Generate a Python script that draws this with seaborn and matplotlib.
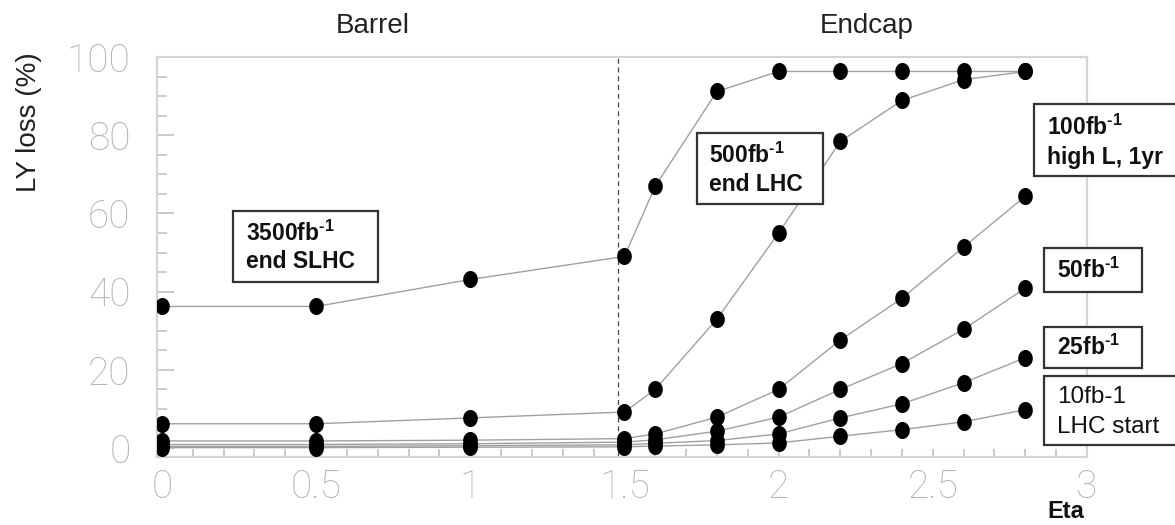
import numpy as np
import pandas as pd
import matplotlib
matplotlib.use("Agg")
import matplotlib.pyplot as plt
from matplotlib.path import Path
from matplotlib.patches import Rectangle
from matplotlib.ticker import MultipleLocator
import seaborn as sns

# Pseudorapidity positions of the measured towers
eta = [0.0, 0.5, 1.0, 1.5, 1.6, 1.8, 2.0, 2.2, 2.4, 2.6, 2.8]

# Light-yield loss (%) for each integrated luminosity
loss_3500fb = [36.2, 36.2, 43.1, 49.0, 67.0, 91.2, 96.3, 96.3, 96.3, 96.3, 96.3]
loss_500fb = [6.2, 6.2, 7.7, 9.2, 15.0, 33.0, 55.0, 78.4, 88.9, 94.2, 96.3]
loss_100fb = [1.8, 1.8, 2.0, 2.4, 3.6, 7.9, 15.0, 27.6, 38.3, 51.4, 64.4]
loss_50fb = [0.9, 0.9, 1.1, 1.5, 2.1, 4.3, 7.9, 15.0, 21.6, 30.4, 40.9]
loss_25fb = [0.4, 0.4, 0.6, 0.8, 1.2, 1.9, 3.6, 7.7, 11.3, 16.7, 23.1]
loss_10fb = [0.1, 0.1, 0.2, 0.3, 0.5, 0.8, 1.3, 3.0, 4.7, 6.7, 9.8]

series_names = ["3500fb", "500fb", "100fb", "50fb", "25fb", "10fb"]
series_values = [loss_3500fb, loss_500fb, loss_100fb, loss_50fb, loss_25fb, loss_10fb]

# Box captions for the luminosity scenarios
caption_3500 = [r"3500fb$^{\text{-1}}$", "end SLHC"]
caption_500 = [r"500fb$^{\text{-1}}$", "end LHC"]
caption_100 = [r"100fb$^{\text{-1}}$", "high L, 1yr"]
caption_50 = [r"50fb$^{\text{-1}}$"]
caption_25 = [r"25fb$^{\text{-1}}$"]
caption_10 = ["10fb-1", "LHC start"]

xtick_values = [0, 0.5, 1, 1.5, 2, 2.5, 3]
xtick_labels = ["0", "0.5", "1", "1.5", "2", "2.5", "3"]
ytick_values = [0, 20, 40, 60, 80, 100]
ytick_labels = ["0", "20", "40", "60", "80", "100"]

barrel_endcap_boundary = 1.48

df = pd.DataFrame({
    "eta": np.tile(eta, len(series_names)),
    "loss": np.concatenate(series_values),
    "dose": np.repeat(series_names, len(eta)),
})

sns.set_theme(style="white")
plt.rcParams["font.family"] = ["Liberation Sans", "DejaVu Sans"]
plt.rcParams["mathtext.fontset"] = "custom"
plt.rcParams["mathtext.rm"] = "Liberation Sans:bold"
plt.rcParams["mathtext.bf"] = "Liberation Sans:bold"

W, H = 1175, 525
fig = plt.figure(figsize=(W / 100, H / 100), dpi=100, facecolor="white")
ax = fig.add_axes([157 / W, 1 - 457 / H, 930 / W, 400 / H])
ax.set_facecolor("white")

# slightly tall elliptical dots
t = np.linspace(0, 2 * np.pi, 64)
dot = Path(np.column_stack([0.86 * np.cos(t), np.sin(t)]), closed=True)

sns.lineplot(data=df, x="eta", y="loss", hue="dose", palette=["#a0a0a0"] * 6,
             estimator=None, sort=False, lw=1.0, legend=False, ax=ax, zorder=2)
sns.scatterplot(data=df, x="eta", y="loss", color="black", marker=dot, s=150,
                linewidth=0, legend=False, ax=ax, zorder=3)

ax.axvline(barrel_endcap_boundary, color="#444444", lw=0.9, ls=(0, (4, 3)), zorder=1)

ax.set_xlim(-0.016, 3.0)
ax.set_ylim(-2.3, 100)
ax.set_xticks(xtick_values, labels=xtick_labels)
ax.set_yticks(ytick_values, labels=ytick_labels)
ax.xaxis.set_minor_locator(MultipleLocator(0.1))
ax.yaxis.set_minor_locator(MultipleLocator(5))
ax.set_xlabel("")
ax.set_ylabel("")

ax.tick_params(which="both", direction="in", color="#bdbdbd", width=1.1,
               bottom=True, left=True, top=False, right=False)
ax.tick_params(axis="y", which="major", length=12, pad=19)
ax.tick_params(axis="y", which="minor", length=7)
ax.tick_params(axis="x", which="both", length=5.5, pad=8)
ax.yaxis.get_major_ticks()[3].tick1line.set_color("black")

for lab in ax.get_xticklabels() + ax.get_yticklabels():
    lab.set_fontfamily(["Roboto", "DejaVu Sans"])
    lab.set_fontweight(100)
    lab.set_fontsize(28)
    lab.set_color("#b4b4b4")

for sp in ax.spines.values():
    sp.set_visible(True)
    sp.set_color("#d4d4d4")
    sp.set_linewidth(1.6)

# region headings and axis titles
fig.text(373 / W, 1 - 26 / H, "Barrel", ha="center", va="center", fontsize=20, color="#222222")
fig.text(867 / W, 1 - 26 / H, "Endcap", ha="center", va="center", fontsize=20, color="#222222")
fig.text(29 / W, 1 - 122 / H, "LY loss (%)", rotation=90, ha="center", va="center",
         fontsize=20, color="#222222")
fig.text(1047 / W, 2 / H, "Eta", ha="left", va="bottom", fontsize=17,
         fontweight="bold", color="#111111")


def caption_box(x0, y0, x1, y1, tx, baselines, lines, weight="bold", size=16.5):
    fig.add_artist(Rectangle((x0 / W, 1 - y1 / H), (x1 - x0) / W, (y1 - y0) / H,
                             transform=fig.transFigure, facecolor="white",
                             edgecolor="#333333", lw=1.6, zorder=5))
    for yb, s in zip(baselines, lines):
        fig.text(tx / W, 1 - yb / H, s, ha="left", va="baseline", fontsize=size,
                 fontweight=weight, color="#111111", zorder=6)


caption_box(233, 211, 378, 282, 246, [241, 268], caption_3500)
caption_box(697, 133, 823, 204, 709, [163, 191], caption_500)
caption_box(1034, 104, 1200, 176, 1047, [135, 164], caption_100)
caption_box(1044, 248, 1142, 292, 1057, [278], caption_50)
caption_box(1044, 327, 1142, 368, 1057, [355], caption_25)
caption_box(1044, 376, 1200, 445, 1057, [403, 433], caption_10, weight="normal", size=17.5)

fig.savefig("out.png", dpi=100, facecolor="white")
